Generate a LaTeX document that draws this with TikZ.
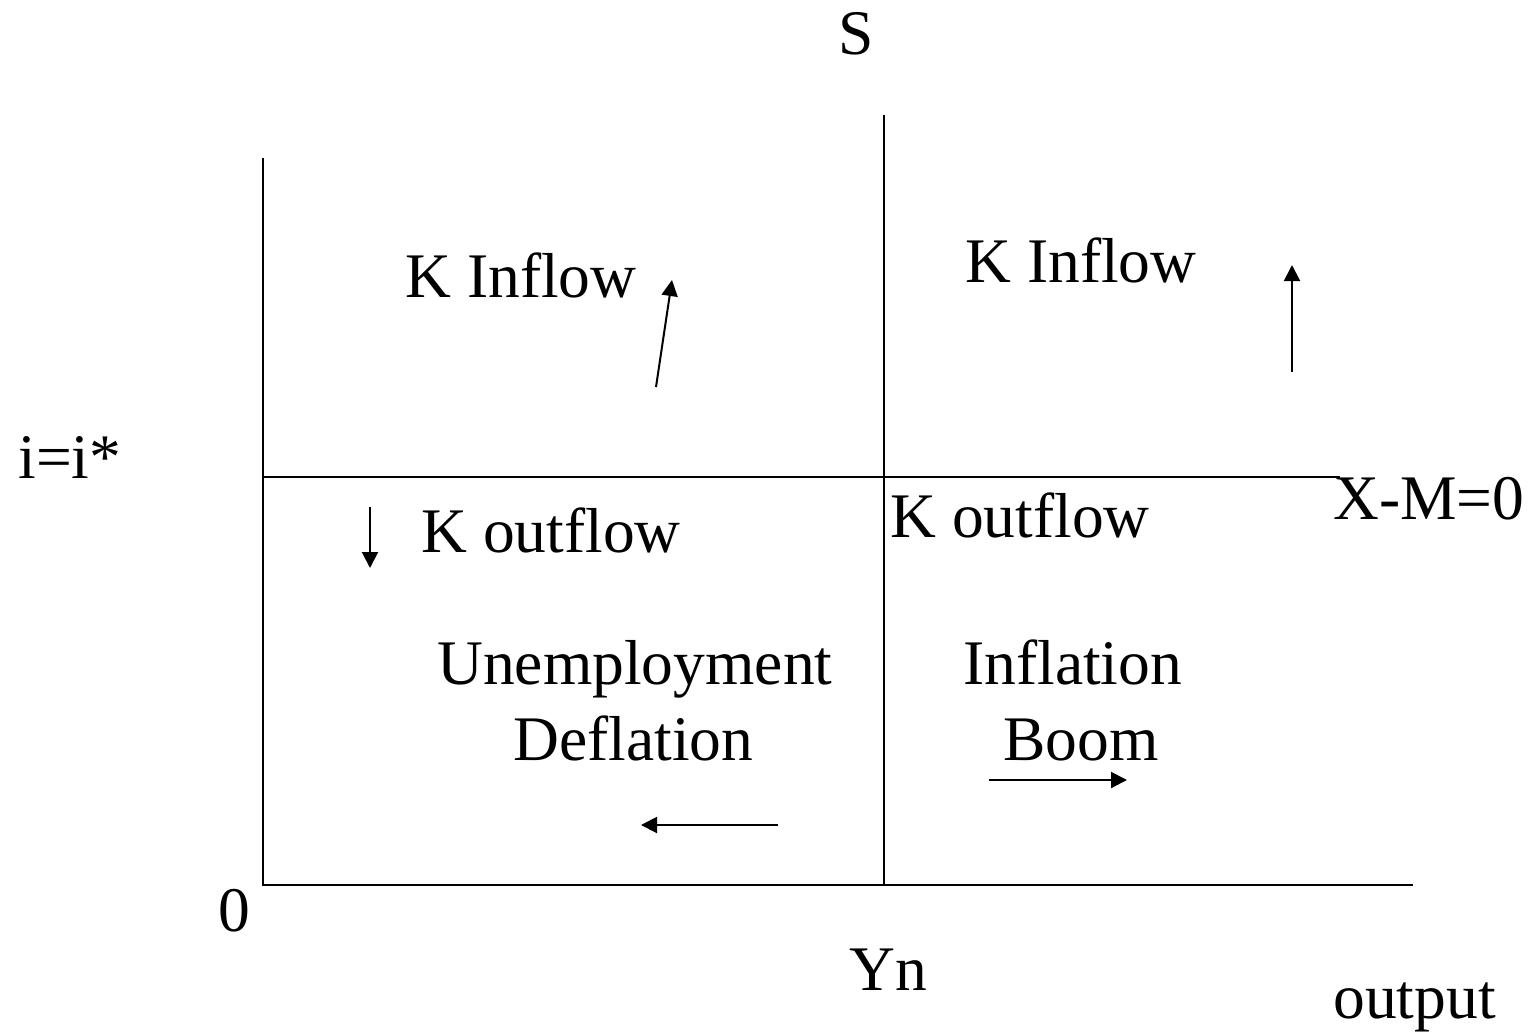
\documentclass[tikz,border=0pt]{standalone}
\usepackage{fontspec}
\setmainfont{Liberation Serif}
\usetikzlibrary{arrows.meta}
\begin{document}
\begin{tikzpicture}[x=0.5pt,y=-0.5pt,
  lbl/.style={anchor=base west,inner sep=0pt,font=\fontsize{31.75}{38}\selectfont},
  axis/.style={line width=1pt},
  arr/.style={line width=1pt,-{Triangle[length=8pt,width=8pt]}}]
\useasboundingbox (0,0) rectangle (1539,1035);
% axes and lines
\coordinate (o) at (263,885);
\coordinate (ytop) at (263,158);
\coordinate (xend) at (1413,885);
\coordinate (mtop) at (884,115);
\coordinate (mbot) at (884,885);
\coordinate (hl) at (263,477);
\coordinate (hr) at (1340,477);
\draw[axis] (ytop) -- (o) -- (xend);
\draw[axis] (mtop) -- (mbot);
\draw[axis] (hl) -- (hr);
% arrows
\coordinate (a1s) at (656,387); \coordinate (a1e) at (672,280);
\coordinate (a2s) at (1292,372); \coordinate (a2e) at (1292,265);
\coordinate (a3s) at (370,507); \coordinate (a3e) at (370,568);
\coordinate (a4s) at (778,825); \coordinate (a4e) at (641,825);
\coordinate (a5s) at (989,780); \coordinate (a5e) at (1127,780);
\draw[arr] (a1s) -- (a1e);
\draw[arr] (a2s) -- (a2e);
\draw[arr] (a3s) -- (a3e);
\draw[arr] (a4s) -- (a4e);
\draw[arr] (a5s) -- (a5e);
% labels
\node[lbl] (s) at (838,54) {S};
\node[lbl] (kin1) at (405,297) {K Inflow};
\node[lbl] (kin2) at (965,282) {K Inflow};
\node[lbl] (ii) at (18,478) {i=i*};
\node[lbl] (xm) at (1333,519) {X-M=0};
\node[lbl] (kout1) at (421,552) {K outflow};
\node[lbl] (kout2) at (890,537) {K outflow};
\node[lbl] (unemp) at (437,684) {Unemployment};
\node[lbl] (defl) at (513,760) {Deflation};
\node[lbl] (infl) at (963,684) {Inflation};
\node[lbl] (boom) at (1003,760) {Boom};
\node[lbl] (zero) at (218,931) {0};
\node[lbl] (yn) at (849,990) {Yn};
\node[lbl] (out) at (1333,1018) {output};
\end{tikzpicture}
\end{document}
